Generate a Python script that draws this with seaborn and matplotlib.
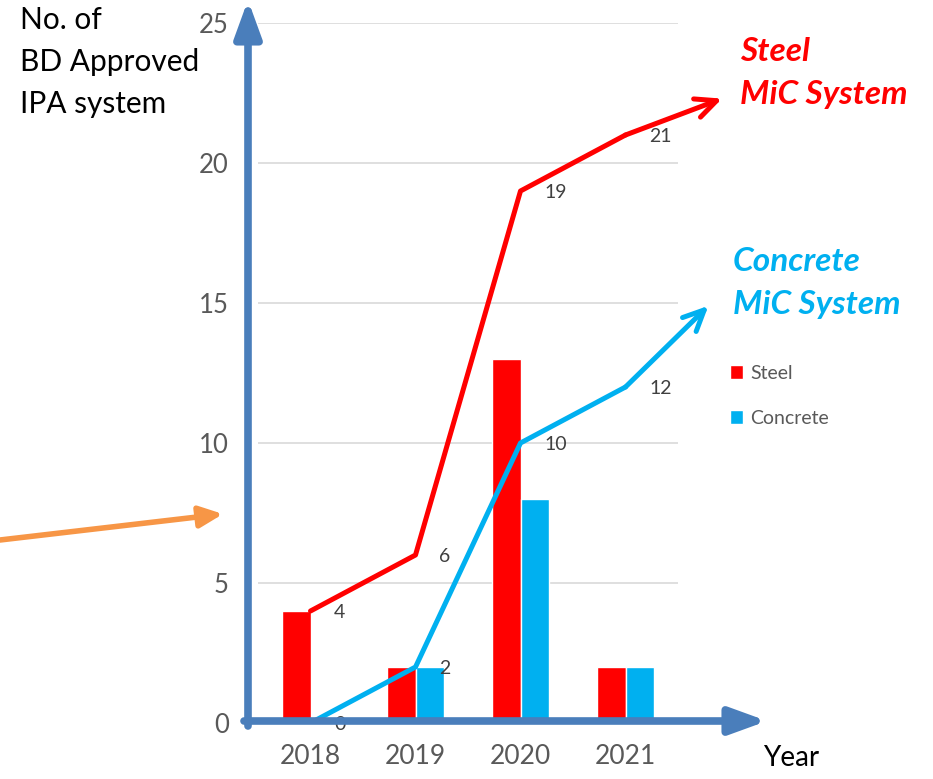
import numpy as np
import pandas as pd
import seaborn as sns
import matplotlib
matplotlib.use("Agg")
import matplotlib.pyplot as plt

# %% data
years = ["2018", "2019", "2020", "2021"]
steel_new = [4, 2, 13, 2]
concrete_new = [0, 2, 8, 2]
steel_total = [4, 6, 19, 21]
concrete_total = [0, 2, 10, 12]

RED = "#FF0000"
BLUE = "#00B0F0"
AXIS_BLUE = "#4A7EBB"
GREY = "#595959"

sns.set_theme(style="white")
plt.rcParams["font.family"] = ["Lato", "DejaVu Sans"]

W, H = 933, 779
fig = plt.figure(figsize=(W / 100, H / 100), dpi=100)
ax = fig.add_axes([258 / W, 56 / H, 420 / W, 700 / H])

def fx(px):
    return px / W

def fy(py):
    return 1 - py / H

# %% bars
bars = pd.DataFrame({
    "year": years * 2,
    "count": steel_new + concrete_new,
    "type": ["Steel"] * 4 + ["Concrete"] * 4,
})
sns.barplot(data=bars, x="year", y="count", hue="type",
            hue_order=["Steel", "Concrete"],
            palette=[RED, BLUE], saturation=1, width=0.55,
            ax=ax, zorder=2)

# %% cumulative lines
xs = np.arange(len(years))
sns.lineplot(x=xs, y=steel_total, color=RED, lw=3.6, ax=ax, zorder=3)
sns.lineplot(x=xs, y=concrete_total, color=BLUE, lw=3.6, ax=ax, zorder=3)

for x, v in zip(xs, steel_total):
    ax.annotate(str(v), (x, v), xytext=(17, -1), textcoords="offset points",
                ha="left", va="center", fontsize=14, color="#404040",
                annotation_clip=False, zorder=4)
for x, v in zip(xs, concrete_total):
    ax.annotate(str(v), (x, v), xytext=(17, -1), textcoords="offset points",
                ha="left", va="center", fontsize=14, color="#404040",
                annotation_clip=False, zorder=4)

# arrow extensions past 2021
ax.annotate("", xy=(3.92, 22.3), xytext=(3, steel_total[-1]),
            arrowprops=dict(arrowstyle="->,head_length=0.75,head_width=0.35",
                            color=RED, lw=3.6, mutation_scale=20,
                            shrinkA=0, shrinkB=0),
            annotation_clip=False)
ax.annotate("", xy=(3.79, 14.9), xytext=(3, concrete_total[-1]),
            arrowprops=dict(arrowstyle="->,head_length=0.75,head_width=0.35",
                            color=BLUE, lw=3.6, mutation_scale=20,
                            shrinkA=0, shrinkB=0),
            annotation_clip=False)

# %% axes styling
ax.set_xlim(-0.5, 3.5)
ax.set_ylim(0, 25)
ax.set_yticks([0, 5, 10, 15, 20, 25])
ax.yaxis.grid(True, color="#D9D9D9", lw=1.2, zorder=0)
ax.set_axisbelow(True)
for s in ax.spines.values():
    s.set_visible(False)
ax.set_xlabel("")
ax.set_ylabel("")
ax.tick_params(axis="y", labelsize=18.5, labelcolor=GREY, length=0, pad=21)
ax.tick_params(axis="x", labelsize=19, labelcolor=GREY, length=0, pad=15)

leg = ax.legend(loc="center left", bbox_to_anchor=(fx(712), fy(396)),
                bbox_transform=fig.transFigure, frameon=False,
                fontsize=14, handlelength=0.7, handleheight=0.7,
                handletextpad=0.35, labelspacing=1.45)
for t in leg.get_texts():
    t.set_color(GREY)

# blue axis arrows
fig.patches.append(matplotlib.patches.FancyArrowPatch(
    (fx(248), fy(726)), (fx(248), fy(0)), transform=fig.transFigure,
    arrowstyle="-|>,head_length=1.1,head_width=0.4", mutation_scale=20,
    color=AXIS_BLUE, lw=5.5, shrinkA=0, shrinkB=0))
fig.patches.append(matplotlib.patches.FancyArrowPatch(
    (fx(244), fy(721)), (fx(767), fy(721)), transform=fig.transFigure,
    arrowstyle="-|>,head_length=1.1,head_width=0.4", mutation_scale=20,
    color=AXIS_BLUE, lw=5.5, shrinkA=0, shrinkB=0))

# orange pointer
fig.patches.append(matplotlib.patches.FancyArrowPatch(
    (fx(0), fy(540)), (fx(223), fy(514)), transform=fig.transFigure,
    arrowstyle="-|>,head_length=0.7,head_width=0.32", mutation_scale=20,
    color="#F79646", lw=4, shrinkA=0, shrinkB=0))

# %% texts
fig.text(fx(20), fy(62), "No. of\nBD Approved\nIPA system", ha="left", va="center",
         fontsize=21.5, color="black", linespacing=1.6)
fig.text(fx(763), fy(758), "Year", ha="left", va="center", fontsize=20, color="black")
fig.text(fx(740), fy(73), "Steel\nMiC System", ha="left", va="center",
         fontsize=24, color=RED, fontweight="bold", fontstyle="italic", linespacing=1.55)
fig.text(fx(733), fy(283), "Concrete\nMiC System", ha="left", va="center",
         fontsize=24, color=BLUE, fontweight="bold", fontstyle="italic", linespacing=1.55)

fig.savefig("out.png", dpi=100)
